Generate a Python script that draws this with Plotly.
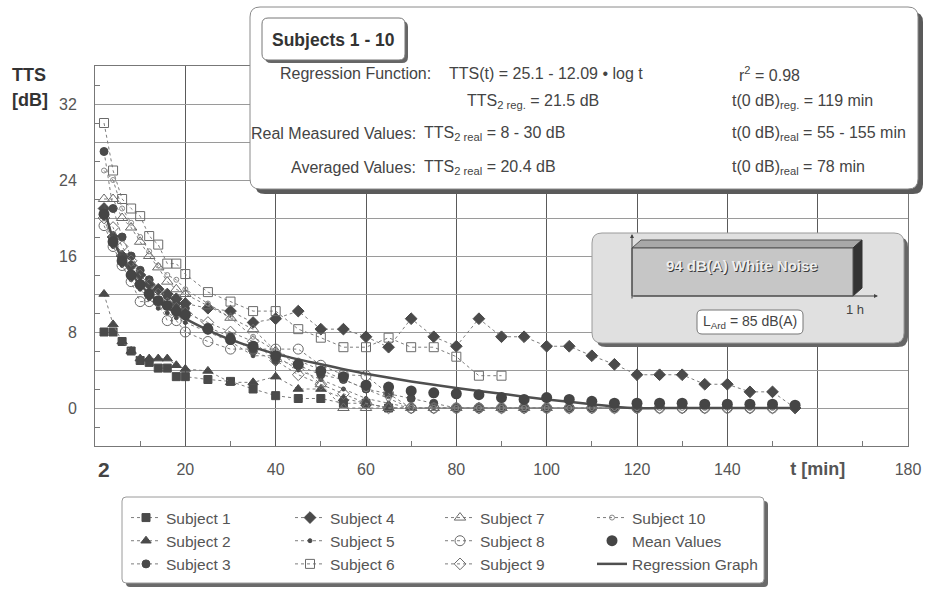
import plotly.graph_objects as go

# ---------------- data ----------------
T_EARLY = [2, 4, 6, 8, 10, 12, 14, 16, 18, 20]
T_LATE = [25, 30, 35, 40, 45, 50, 55, 60, 65, 70, 75, 80, 85, 90, 95, 100,
          105, 110, 115, 120, 125, 130, 135, 140, 145, 150, 155]
T_ALL = T_EARLY + T_LATE

subject_names = ["Subject 1", "Subject 2", "Subject 3", "Subject 4", "Subject 5",
                 "Subject 6", "Subject 7", "Subject 8", "Subject 9", "Subject 10"]

s1 = [8, 8, 7, 6, 5, 4.8, 4.2, 4.2, 3.3, 3.3,
      3.0, 2.8, 2.0, 1.3, 1.0, 1.0, 0.5, 0.5, 0]
s2 = [12, 8.8, 7, 6, 5.2, 5.2, 5.2, 5.2, 4.5, 4.1,
      3.9, 2.7, 2.7, 3.3, 2.0, 2.0, 1.0, 0.5, 0, 0]
s3 = [27, 21, 18, 16, 14.5, 13.5, 12.5, 11.8, 11, 10.5,
      8.5, 7.5, 6.0, 5.0, 4.5, 3.5, 3.0, 2.0, 1.5, 1.0, 0.5, 0, 0, 0, 0, 0, 0, 0, 0, 0]
s4 = [21, 18, 16, 15, 14, 13, 12.5, 12, 11.5, 11,
      10.5, 10.2, 9.0, 9.4, 10.2, 8.3, 8.3, 7.5, 6.4, 9.4, 7.5, 6.5, 9.4, 7.5, 7.5,
      6.5, 6.5, 5.5, 4.6, 3.5, 3.5, 3.5, 2.5, 2.5, 1.7, 1.7, 0]
s5 = [20, 17, 15, 13.5, 12.5, 11.5, 10.5, 10, 9.5, 9,
      8, 7, 5.5, 5.5, 4, 3, 2, 1, 0.5, 0, 0, 0, 0, 0, 0, 0, 0, 0, 0, 0]
s6 = [30, 25, 22, 21, 20.2, 18.1, 17.2, 15.2, 15.2, 14.1,
      12.2, 11.2, 10.2, 10.2, 8.3, 7.4, 6.4, 6.4, 7.4, 6.4, 6.4, 5.4, 3.4, 3.4]
s7 = [22, 22, 20, 19, 17.5, 16, 14.8, 13.3, 12.5, 12,
      10.7, 9.5, 8.3, 6.0, 4.5, 2.5, 0, 0, 0, 0, 0, 0, 0, 0, 0, 0]
s8 = [19.2, 17, 15, 13.3, 11.2, 11.2, 11.2, 9.2, 9.2, 8,
      7, 6.2, 6.2, 6.2, 6.2, 4.5, 3.5, 3.4, 1.5, 0, 0, 0, 0, 0, 0, 0, 0, 0, 0, 0,
      0, 0, 0, 0, 0, 0]
s9 = [20, 19, 17, 15.5, 14, 13, 12, 11, 10.5, 10,
      9, 8, 7, 5, 3.5, 2.5, 1.5, 0.5, 0, 0, 0, 0, 0, 0, 0, 0, 0, 0, 0, 0, 0, 0, 0,
      0, 0, 0]
s10 = [25, 24, 21, 19.5, 18, 16.5, 15, 14, 13.5, 12.5,
       11, 9.5, 7.5, 6, 5, 4, 3, 2, 1, 0, 0, 0, 0, 0, 0, 0, 0, 0, 0, 0, 0, 0, 0,
       0, 0, 0]
subject_values = [s1, s2, s3, s4, s5, s6, s7, s8, s9, s10]

mean_values = [20.4, 17.5, 15.5, 14, 13, 12, 11.3, 10.8, 10.2, 9.8,
               8.3, 7.2, 6.5, 5.5, 4.6, 3.9, 3.3, 2.4, 2.2, 1.8, 1.6, 1.5, 1.4, 1.1,
               0.9, 1.1, 0.9, 0.7, 0.5, 0.5, 0.5, 0.5, 0.4, 0.4, 0.4, 0.4, 0.3]

reg_t = [2, 3, 4, 6, 8, 10, 14, 20, 25, 30, 40, 50, 60, 70, 80, 90, 100, 110,
         119, 130, 140, 155]
reg_v = [21.5, 19.3, 17.8, 15.7, 14.2, 13.0, 11.2, 9.4, 8.2, 7.2, 5.7, 4.6,
         3.6, 2.8, 2.1, 1.5, 0.9, 0.4, 0.0, 0.0, 0.0, 0.0]

x_tickvals = [20, 40, 60, 80, 100, 120, 140, 160, 180]
x_ticktext = ["20", "40", "60", "80", "100", "120", "140",
              "<span style='font-size:18px'><b>t [min]</b></span>", "180"]
x_minor = [10, 30, 50, 70, 90, 110, 130, 150, 170]
y_tickvals = [-4, 0, 4, 8, 12, 16, 20, 24, 28, 32, 36]
y_ticktext = ["", "0", "", "8", "", "16", "", "24", "", "32", ""]
y_minor = [-2, 2, 6, 10, 14, 18, 22, 26, 30, 34]

# ---------------- geometry helpers (pixel -> paper) ----------------
W, H = 926, 589
ML, MR, MT, MB = 95, 18, 66, 143
PW = W - ML - MR
PH = H - MT - MB


def px(x):
    return (x - ML) / PW


def py(y):
    return (H - MB - y) / PH


def rrect(x0, y0, x1, y1, r):
    return (f"M {px(x0 + r)},{py(y0)} L {px(x1 - r)},{py(y0)} "
            f"Q {px(x1)},{py(y0)} {px(x1)},{py(y0 + r)} L {px(x1)},{py(y1 - r)} "
            f"Q {px(x1)},{py(y1)} {px(x1 - r)},{py(y1)} L {px(x0 + r)},{py(y1)} "
            f"Q {px(x0)},{py(y1)} {px(x0)},{py(y1 - r)} L {px(x0)},{py(y0 + r)} "
            f"Q {px(x0)},{py(y0)} {px(x0 + r)},{py(y0)} Z")


def poly(points):
    return "M " + " L ".join(f"{px(a)},{py(b)}" for a, b in points) + " Z"


FONT = "Arial, 'Liberation Sans', sans-serif"
DARK = "#4a4a4a"
LINEC = "#7d7d7d"

styles = [
    dict(symbol="square", size=8, color=DARK),
    dict(symbol="triangle-up", size=9, color=DARK),
    dict(symbol="circle", size=8, color=DARK),
    dict(symbol="diamond", size=9, color=DARK),
    dict(symbol="circle", size=4, color=DARK),
    dict(symbol="square-open", size=9, color="#6a6a6a"),
    dict(symbol="triangle-up-open", size=10, color="#6a6a6a"),
    dict(symbol="circle-open", size=10, color="#6a6a6a"),
    dict(symbol="diamond-open", size=9, color="#6a6a6a"),
    dict(symbol="circle-open", size=5, color="#8a8a8a"),
]
legend_of = ["legend", "legend", "legend", "legend2", "legend2", "legend2",
             "legend3", "legend3", "legend3", "legend4"]

fig = go.Figure()
for name, vals, st, lg in zip(subject_names, subject_values, styles, legend_of):
    fig.add_trace(go.Scatter(
        x=T_ALL[:len(vals)], y=vals, name=name, mode="lines+markers",
        line=dict(color=LINEC, width=1, dash="dot"),
        marker=dict(symbol=st["symbol"], size=st["size"], color=st["color"],
                    line=dict(width=1, color=st["color"])),
        legend=lg))

fig.add_trace(go.Scatter(
    x=reg_t, y=reg_v, name="Regression Graph", mode="lines",
    line=dict(color="#4f4f4f", width=2.5, shape="spline", smoothing=0.8),
    legend="legend4", legendrank=1002))
fig.add_trace(go.Scatter(
    x=T_ALL[:len(mean_values)], y=mean_values, name="Mean Values", mode="markers",
    marker=dict(symbol="circle", size=11, color="#454545"),
    legend="legend4", legendrank=1001))

# ---------------- shapes ----------------
shapes = []


def add_path(path, fill, line=None):
    shapes.append(dict(type="path", path=path, xref="paper", yref="paper", fillcolor=fill,
                       line=line if line else dict(width=0), layer="above"))


# info box
add_path(rrect(255, 12, 923, 194, 10), "#5a5a5a")
add_path(rrect(250, 7, 918, 189, 10), "white", dict(color="#8a8a8a", width=1))
add_path(rrect(265, 21, 408, 63, 6), "#666666")
add_path(rrect(262, 18, 405, 60, 6), "white", dict(color="#777777", width=1))
# inset box
add_path(rrect(596, 237, 908, 347, 10), "#666666")
add_path(rrect(592, 233, 904, 343, 10), "#e0e0e0", dict(color="#9a9a9a", width=1))
# 3D bar
add_path(poly([(632, 248), (641, 240), (862, 240), (853, 248)]), "#a8a8a8",
         dict(color="#555", width=1))
add_path(poly([(853, 248), (862, 240), (862, 288), (853, 296)]), "#333333",
         dict(color="#333", width=1))
add_path(poly([(632, 248), (853, 248), (853, 296), (632, 296)]), "#c6c6c6",
         dict(color="#555", width=1))
add_path(rrect(697, 310, 803, 334, 5), "white", dict(color="#777", width=1))
# legend box
add_path(rrect(126, 501, 768, 587, 4), "#6a6a6a")
add_path(rrect(122, 497, 764, 583, 4), "white", dict(color="#9a9a9a", width=1))

# ---------------- annotations ----------------
ann = []
TXT = "#444444"


def text(x, y, s, size=16, anchor="left", color=TXT, bold=False):
    ann.append(dict(x=px(x), y=py(y), xref="paper", yref="paper",
                    text=(f"<b>{s}</b>" if bold else s),
                    showarrow=False, xanchor=anchor, yanchor="middle",
                    font=dict(family=FONT, size=size, color=color)))


text(333, 40, "Subjects 1 - 10", size=17.5, anchor="center", color="#333", bold=True)
text(433, 74, "Regression Function:", anchor="right")
text(447, 74, "TTS(t) = 25.1 - 12.09 • log t")
text(737, 74, "r<sup>2</sup> = 0.98")
text(465, 102, "TTS<sub>2 reg.</sub> = 21.5 dB")
text(730, 102, "t(0 dB)<sub>reg.</sub> = 119 min")
text(418, 133, "Real Measured Values:", anchor="right")
text(422, 133, "TTS<sub>2 real</sub> = 8 - 30 dB")
text(730, 133, "t(0 dB)<sub>real</sub> = 55 - 155 min")
text(418, 167, "Averaged Values:", anchor="right")
text(422, 167, "TTS<sub>2 real</sub> = 20.4 dB")
text(730, 167, "t(0 dB)<sub>real</sub> = 78 min")

text(743, 266, "94 dB(A) White Noise", size=15, anchor="center", color="#3a3a3a", bold=True)
text(742, 265, "94 dB(A) White Noise", size=15, anchor="center", color="#eeeeee", bold=True)
text(855, 309, "1 h", size=13, anchor="center")
text(750, 322, "L<sub>Ard</sub> = 85 dB(A)", size=14, anchor="center")

text(29, 75, "TTS", size=18, anchor="center", color="#333", bold=True)
text(30, 100, "[dB]", size=18, anchor="center", color="#333", bold=True)

# arrows of inset sketch
ann.append(dict(x=px(632), y=py(234), xref="paper", yref="paper", ax=0, ay=66, text="",
                showarrow=True, arrowhead=2, arrowsize=0.8, arrowwidth=1, arrowcolor="#444"))
ann.append(dict(x=px(878), y=py(296), xref="paper", yref="paper", ax=-246, ay=0, text="",
                showarrow=True, arrowhead=2, arrowsize=0.8, arrowwidth=1, arrowcolor="#444"))

# "2" tick label on x axis
ann.append(dict(x=2, y=py(469), xref="x", yref="paper", text="<b>2</b>", showarrow=False,
                xanchor="center", yanchor="middle",
                font=dict(family=FONT, size=21, color="#444")))

legend_common = dict(orientation="v", xanchor="left", yanchor="top", bgcolor="rgba(0,0,0,0)",
                     borderwidth=0, itemwidth=30, tracegroupgap=0,
                     font=dict(family=FONT, size=15.5, color="#555"))

fig.update_layout(
    width=W, height=H,
    margin=dict(l=ML, r=MR, t=MT, b=MB, pad=0, autoexpand=False),
    paper_bgcolor="white", plot_bgcolor="white",
    font=dict(family=FONT, color="#555"),
    showlegend=True,
    legend=dict(x=px(126), y=py(501), **legend_common),
    legend2=dict(x=px(290), y=py(501), **legend_common),
    legend3=dict(x=px(440), y=py(501), **legend_common),
    legend4=dict(x=px(592), y=py(501), **legend_common),
    xaxis=dict(range=[0, 180], tickvals=x_tickvals, ticktext=x_ticktext,
               showgrid=True, gridcolor="#5a5a5a", gridwidth=1, ticks="",
               ticklabelstandoff=9, tickfont=dict(family=FONT, size=16, color="#555"),
               showline=True, linecolor="#777", linewidth=1, mirror=True, zeroline=False,
               minor=dict(tickvals=x_minor, ticks="inside", ticklen=5, tickcolor="#777",
                          showgrid=False)),
    yaxis=dict(range=[-4, 36], tickvals=y_tickvals, ticktext=y_ticktext,
               showgrid=True, gridcolor="#9a9a9a", gridwidth=1, ticks="",
               ticklabelstandoff=14, tickfont=dict(family=FONT, size=16, color="#555"),
               showline=True, linecolor="#777", linewidth=1, mirror=True, zeroline=False,
               minor=dict(tickvals=y_minor, ticks="inside", ticklen=5, tickcolor="#777",
                          showgrid=False)),
    shapes=shapes, annotations=ann,
)

fig.write_html("out.html")
